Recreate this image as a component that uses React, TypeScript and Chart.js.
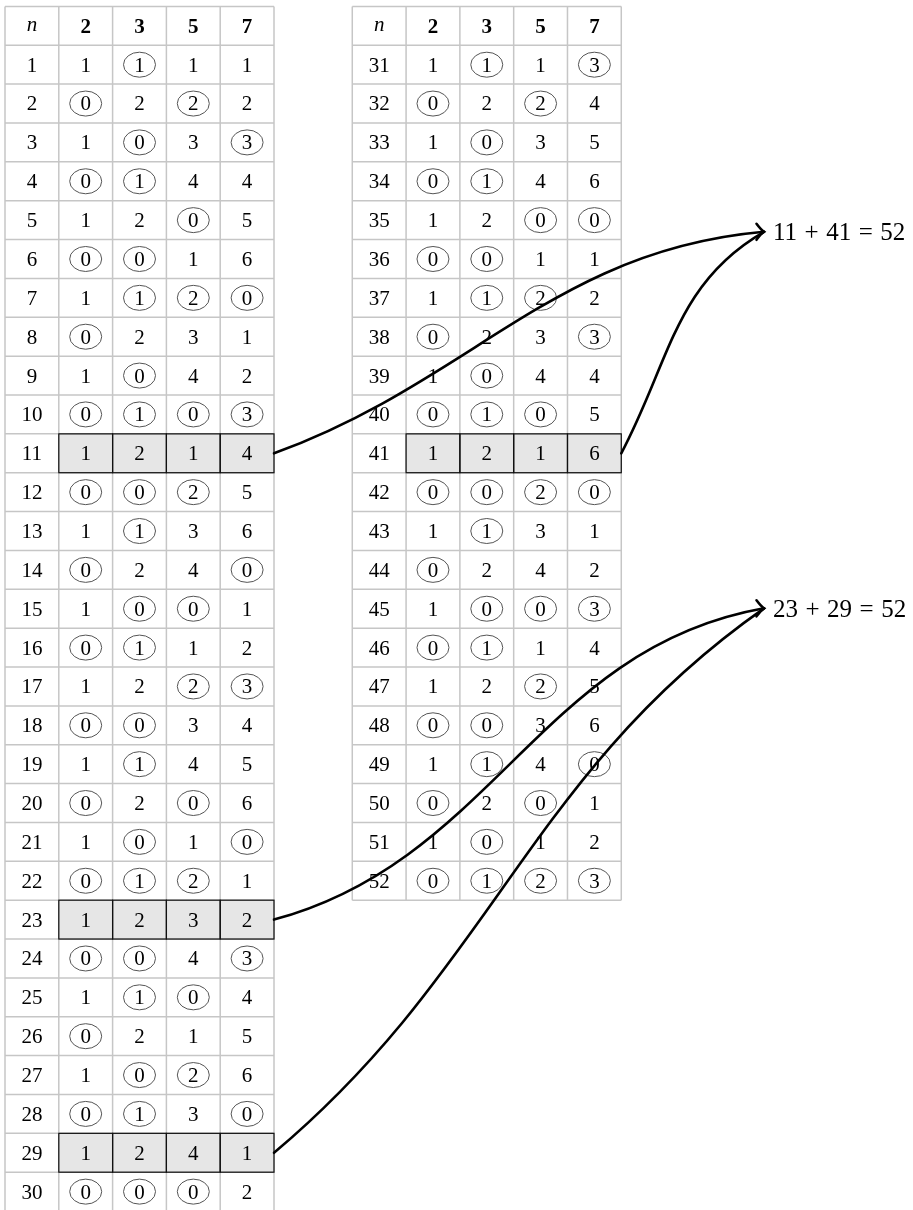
import { useEffect, useRef } from "react";
import { Chart, registerables } from "chart.js";

Chart.register(...registerables);

// ---------- data ----------
const primes = ["2", "3", "5", "7"];
const leftN = [1, 2, 3, 4, 5, 6, 7, 8, 9, 10, 11, 12, 13, 14, 15, 16, 17, 18, 19, 20, 21, 22, 23, 24, 25, 26, 27, 28, 29, 30];
const rightN = [31, 32, 33, 34, 35, 36, 37, 38, 39, 40, 41, 42, 43, 44, 45, 46, 47, 48, 49, 50, 51, 52];

// residues of n = 1..52
const mod2 = [1, 0, 1, 0, 1, 0, 1, 0, 1, 0, 1, 0, 1, 0, 1, 0, 1, 0, 1, 0, 1, 0, 1, 0, 1, 0, 1, 0, 1, 0, 1, 0, 1, 0, 1, 0, 1, 0, 1, 0, 1, 0, 1, 0, 1, 0, 1, 0, 1, 0, 1, 0];
const mod3 = [1, 2, 0, 1, 2, 0, 1, 2, 0, 1, 2, 0, 1, 2, 0, 1, 2, 0, 1, 2, 0, 1, 2, 0, 1, 2, 0, 1, 2, 0, 1, 2, 0, 1, 2, 0, 1, 2, 0, 1, 2, 0, 1, 2, 0, 1, 2, 0, 1, 2, 0, 1];
const mod5 = [1, 2, 3, 4, 0, 1, 2, 3, 4, 0, 1, 2, 3, 4, 0, 1, 2, 3, 4, 0, 1, 2, 3, 4, 0, 1, 2, 3, 4, 0, 1, 2, 3, 4, 0, 1, 2, 3, 4, 0, 1, 2, 3, 4, 0, 1, 2, 3, 4, 0, 1, 2];
const mod7 = [1, 2, 3, 4, 5, 6, 0, 1, 2, 3, 4, 5, 6, 0, 1, 2, 3, 4, 5, 6, 0, 1, 2, 3, 4, 5, 6, 0, 1, 2, 3, 4, 5, 6, 0, 1, 2, 3, 4, 5, 6, 0, 1, 2, 3, 4, 5, 6, 0, 1, 2, 3];

// residue values that are drawn circled, per column
const circled2 = [0];
const circled3 = [0, 1];
const circled5 = [0, 2];
const circled7 = [0, 3];

const highlightedN = [11, 23, 29, 41];
const pairFirst = [11, 23];
const pairSecond = [41, 29];
const pairSum = [52, 52];

// ---------- layout / style ----------
const COL_PX = 53.8;
const ROW_PX = 38.86;
const LEFT_PX = 5;
const TOP_PX = 6.4;
const W = 913;
const H = 1210;
const RIGHT_TABLE_X0 = 6.455; // in column units
const TARGET_X = 14.108; // arrow tip, column units
const TARGET_Y = [5.8, 15.49]; // arrow tip, row units
// curve out / in angles (TikZ convention) for the four source rows
const CURVE_STYLE: Record<number, { out: number; inn: number }> = {
  11: { out: 20, inn: 185 },
  41: { out: 62, inn: 210 },
  23: { out: 15, inn: 190 },
  29: { out: 40, inn: 215 },
};

const FONT = '"Liberation Serif", "Times New Roman", serif';
const residues = [mod2, mod3, mod5, mod7];
const circled = [circled2, circled3, circled5, circled7];
const tables = [
  { x0: 0, ns: leftN },
  { x0: RIGHT_TABLE_X0, ns: rightN },
];

function locate(n: number) {
  for (const t of tables) {
    const i = t.ns.indexOf(n);
    if (i >= 0) return { x0: t.x0, row: i + 1 };
  }
  return { x0: 0, row: 0 };
}

const tablePlugin = {
  id: "residueTable",
  afterDatasetsDraw(chart: any) {
    const ctx: CanvasRenderingContext2D = chart.ctx;
    const xs = chart.scales.x;
    const ys = chart.scales.y;
    const px = (v: number) => xs.getPixelForValue(v);
    const py = (v: number) => ys.getPixelForValue(v);
    ctx.save();

    // highlighted fills
    ctx.fillStyle = "#e6e6e6";
    for (const n of highlightedN) {
      const { x0, row } = locate(n);
      ctx.fillRect(px(x0 + 1), py(row), px(x0 + 5) - px(x0 + 1), py(row + 1) - py(row));
    }

    // grid lines
    ctx.strokeStyle = "#c6c6c6";
    ctx.lineWidth = 1.5;
    for (const t of tables) {
      const rows = t.ns.length + 1;
      ctx.beginPath();
      for (let r = 0; r <= rows; r++) {
        ctx.moveTo(px(t.x0), py(r));
        ctx.lineTo(px(t.x0 + 5), py(r));
      }
      for (let c = 0; c <= 5; c++) {
        ctx.moveTo(px(t.x0 + c), py(0));
        ctx.lineTo(px(t.x0 + c), py(rows));
      }
      ctx.stroke();
    }

    // highlighted borders
    ctx.strokeStyle = "#111";
    ctx.lineWidth = 1.2;
    for (const n of highlightedN) {
      const { x0, row } = locate(n);
      for (let c = 1; c <= 4; c++) {
        ctx.strokeRect(px(x0 + c), py(row), px(x0 + c + 1) - px(x0 + c), py(row + 1) - py(row));
      }
    }

    // text
    const size = 21;
    ctx.fillStyle = "#000";
    ctx.textAlign = "center";
    ctx.textBaseline = "alphabetic";
    for (const t of tables) {
      const hy = py(0.5);
      ctx.font = `italic ${size}px ${FONT}`;
      ctx.fillText("n", px(t.x0 + 0.5), hy + size * 0.23);
      ctx.font = `bold ${size}px ${FONT}`;
      primes.forEach((p, k) => ctx.fillText(p, px(t.x0 + k + 1.5), hy + size * 0.33));
      ctx.font = `${size}px ${FONT}`;
      t.ns.forEach((n, i) => {
        const cy = py(i + 1.5);
        ctx.fillText(String(n), px(t.x0 + 0.5), cy + size * 0.33);
        residues.forEach((arr, k) => {
          const v = arr[n - 1];
          const cx = px(t.x0 + k + 1.5);
          ctx.fillText(String(v), cx, cy + size * 0.33);
          if (!highlightedN.includes(n) && circled[k].includes(v)) {
            ctx.save();
            ctx.strokeStyle = "#555";
            ctx.lineWidth = 1;
            ctx.beginPath();
            ctx.ellipse(cx, cy, 16, 12.5, 0, 0, Math.PI * 2);
            ctx.stroke();
            ctx.restore();
          }
        });
      });
    }

    // curves
    ctx.strokeStyle = "#000";
    ctx.lineWidth = 2.6;
    ctx.lineCap = "round";
    const toRad = (a: number) => (a * Math.PI) / 180;
    const drawCurve = (n: number, tIdx: number) => {
      const { x0, row } = locate(n);
      const sx = px(x0 + 5);
      const sy = py(row + 0.5);
      const ex = px(TARGET_X);
      const ey = py(TARGET_Y[tIdx]);
      const st = CURVE_STYLE[n];
      const d = Math.hypot(ex - sx, ey - sy) * 0.3915;
      const c1x = sx + d * Math.cos(toRad(st.out));
      const c1y = sy - d * Math.sin(toRad(st.out));
      const c2x = ex + d * Math.cos(toRad(st.inn));
      const c2y = ey - d * Math.sin(toRad(st.inn));
      ctx.beginPath();
      ctx.moveTo(sx, sy);
      ctx.bezierCurveTo(c1x, c1y, c2x, c2y, ex, ey);
      ctx.stroke();
    };
    pairFirst.forEach((a, k) => {
      drawCurve(a, k);
      drawCurve(pairSecond[k], k);
      // arrow head
      const ex = px(TARGET_X);
      const ey = py(TARGET_Y[k]);
      ctx.beginPath();
      ctx.moveTo(ex - 7.5, ey - 8);
      ctx.quadraticCurveTo(ex - 3, ey - 2, ex, ey);
      ctx.quadraticCurveTo(ex - 3, ey + 2, ex - 7.5, ey + 8);
      ctx.stroke();
      // equation
      const es = 25;
      ctx.font = `${es}px ${FONT}`;
      ctx.textAlign = "left";
      ctx.fillStyle = "#000";
      const tokens = [String(a), "+", String(pairSecond[k]), "=", String(pairSum[k])];
      let tx = ex + 9;
      tokens.forEach((tok, j) => {
        ctx.fillText(tok, tx, ey + es * 0.33);
        tx += ctx.measureText(tok).width + (j < tokens.length - 1 ? 7.5 : 0);
      });
    });

    ctx.restore();
  },
};

export default function App() {
  const ref = useRef<HTMLCanvasElement | null>(null);
  useEffect(() => {
    if (!ref.current) return;
    const chart = new Chart(ref.current, {
      type: "scatter",
      data: { datasets: [{ data: [], pointRadius: 0 }] },
      options: {
        animation: false,
        responsive: false,
        events: [],
        layout: { padding: 0 },
        plugins: { legend: { display: false }, tooltip: { enabled: false } },
        scales: {
          x: { type: "linear", display: false, min: -LEFT_PX / COL_PX, max: (W - LEFT_PX) / COL_PX },
          y: { type: "linear", display: false, reverse: true, min: -TOP_PX / ROW_PX, max: (H - TOP_PX) / ROW_PX },
        },
      },
      plugins: [tablePlugin],
    });
    return () => chart.destroy();
  }, []);
  return (
    <div style={{ position: "absolute", left: 0, top: 0, width: W, height: H, background: "#fff" }}>
      <canvas ref={ref} width={W} height={H} />
    </div>
  );
}
